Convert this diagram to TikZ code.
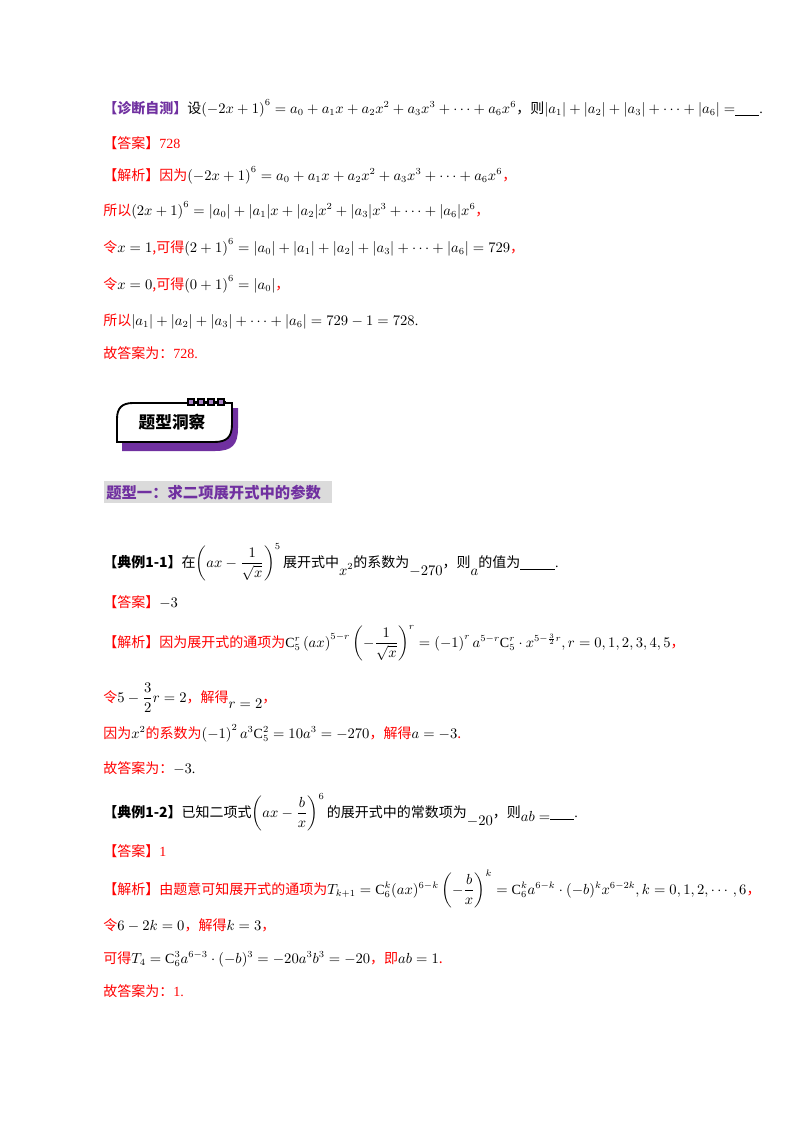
\documentclass[tikz,border=0pt]{standalone}
\usepackage{amsmath}
\usepackage{fontspec}
\setmainfont{Liberation Serif}
\newfontfamily\cjk{Noto Sans CJK SC}
\definecolor{rd}{HTML}{FF0000}
\definecolor{pu}{HTML}{7030A0}
\newcommand{\zh}[1]{{\cjk #1}}
\newcommand{\rz}[1]{{\color{rd}\cjk #1}}
\newcommand{\blank}[1]{\underline{\hspace{#1}}}
\begin{document}
\begin{tikzpicture}[x=0.75pt,y=-0.75pt,
  ln/.style={anchor=base west,inner sep=0pt,font=\fontsize{10.5}{12}\selectfont}]
\useasboundingbox (0,0) rectangle (800,1132);
\fill[white] (0,0) rectangle (800,1132);
% part 1
\node[ln] (l1) at (103,113) {{\color{pu}\cjk\bfseries 【诊断自测】}\zh{设}$\left(-2x+1\right)^6=a_0+a_1x+a_2x^2+a_3x^3+\cdots+a_6x^6$\zh{，则}$|a_1|+|a_2|+|a_3|+\cdots+|a_6|=$\blank{18pt}.};
\node[ln] (l2) at (103,148) {\rz{【答案】}{\color{rd}728}};
\node[ln] (l3) at (103,180) {\rz{【解析】因为}$\left(-2x+1\right)^6=a_0+a_1x+a_2x^2+a_3x^3+\cdots+a_6x^6$\rz{，}};
\node[ln] (l4) at (103,215) {\rz{所以}$\left(2x+1\right)^6=|a_0|+|a_1|x+|a_2|x^2+|a_3|x^3+\cdots+|a_6|x^6$\rz{，}};
\node[ln] (l5) at (103,252) {\rz{令}$x=1$\rz{,可得}$\left(2+1\right)^6=|a_0|+|a_1|+|a_2|+|a_3|+\cdots+|a_6|=729$\rz{，}};
\node[ln] (l6) at (103,289) {\rz{令}$x=0$\rz{,可得}$\left(0+1\right)^6=|a_0|$\rz{，}};
\node[ln] (l7) at (103,325) {\rz{所以}$|a_1|+|a_2|+|a_3|+\cdots+|a_6|=729-1=728$.};
\node[ln] (l8) at (103,358) {\rz{故答案为：}{\color{rd}728.}};
% badge
\fill[pu] (122,408) -- (238,408) -- (238,428) .. controls (238,445) and (232,451) .. (215,451) -- (122,451) -- cycle;
\draw[line width=1.4pt,fill=white] (133,403) -- (232,403) -- (232,424) .. controls (232,437) and (227,442) .. (214,442) -- (117,442) -- (117,419) .. controls (117,408) and (122,403) .. (133,403) -- cycle;
\draw[line width=1pt] (187,402) -- (226,402);
\foreach \i in {0,1,2,3} \draw[line width=1pt,fill=pu!60] (188+\i*10,399) rectangle +(6,6);
\node[font=\fontsize{12.5}{14}\selectfont\cjk\bfseries] (badge) at (172,422) {题型洞察};
% heading
\fill[black!14] (104,481) rectangle (332,503);
\node[ln,font=\fontsize{11.5}{13}\selectfont\cjk\bfseries,text=pu] (h1) at (106,498) {题型一：求二项展开式中的参数};
% example 1-1
\node[ln] (e1) at (103,567) {\zh{\bfseries 【典例1-1】}\zh{在}$\left(ax-\dfrac{1}{\sqrt{x}}\right)^{5}$\,\zh{展开式中}\raisebox{-6pt}{$x^2$}\zh{的系数为}\raisebox{-6pt}{$-270$}\zh{，则}\raisebox{-6pt}{$a$}\zh{的值为}\blank{26pt}.};
\node[ln] (e2) at (103,607) {\rz{【答案】}$-3$};
\node[ln] (e3) at (103,647) {\rz{【解析】因为展开式的通项为}$\mathrm{C}_5^r\left(ax\right)^{5-r}\left(-\dfrac{1}{\sqrt{x}}\right)^{r}=\left(-1\right)^r a^{5-r}\mathrm{C}_5^r\cdot x^{5-\frac32 r},r=0,1,2,3,4,5$\rz{，}};
\node[ln] (e4) at (103,702) {\rz{令}$5-\dfrac32 r=2$\rz{，解得}\raisebox{-5pt}{$r=2$}\rz{，}};
\node[ln] (e5) at (103,738) {\rz{因为}$x^2$\rz{的系数为}$\left(-1\right)^2a^3\mathrm{C}_5^2=10a^3=-270$\rz{，解得}$a=-3$\rz{.}};
\node[ln] (e6) at (103,773) {\rz{故答案为：}$-3$.};
% example 1-2
\node[ln] (f1) at (103,817) {\zh{\bfseries 【典例1-2】}\zh{已知二项式}$\left(ax-\dfrac{b}{x}\right)^{6}$\,\zh{的展开式中的常数项为}\raisebox{-6pt}{$-20$}\zh{，则}\raisebox{-3pt}{$ab=$}\blank{18pt}.};
\node[ln] (f2) at (103,856) {\rz{【答案】}{\color{rd}1}};
\node[ln] (f3) at (103,894) {\rz{【解析】由题意可知展开式的通项为}$T_{k+1}=\mathrm{C}_6^k(ax)^{6-k}\left(-\dfrac{b}{x}\right)^{k}=\mathrm{C}_6^ka^{6-k}\cdot(-b)^kx^{6-2k},k=0,1,2,\cdots,6$\rz{，}};
\node[ln] (f4) at (103,930) {\rz{令}$6-2k=0$\rz{，解得}$k=3$\rz{，}};
\node[ln] (f5) at (103,963) {\rz{可得}$T_4=\mathrm{C}_6^3a^{6-3}\cdot(-b)^3=-20a^3b^3=-20$\rz{，即}$ab=1$\rz{.}};
\node[ln] (f6) at (103,996) {\rz{故答案为：}{\color{rd}1.}};
\end{tikzpicture}
\end{document}
